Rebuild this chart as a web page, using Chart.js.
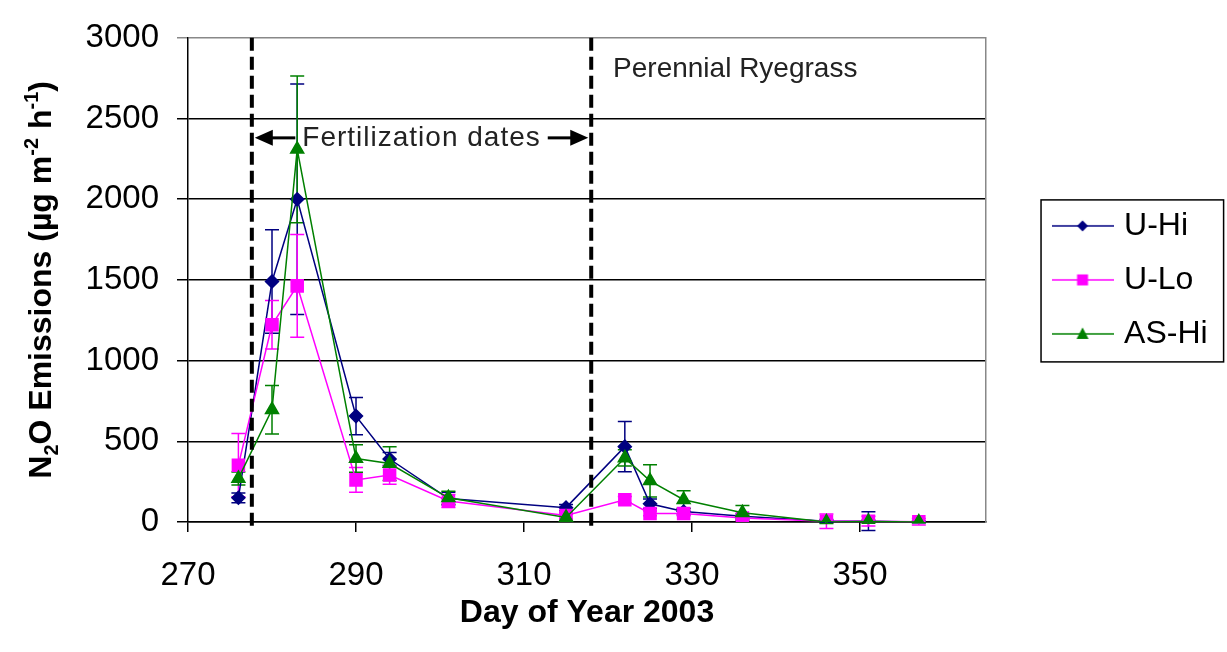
<!DOCTYPE html>
<html>
<head>
<meta charset="utf-8">
<script src="https://cdn.jsdelivr.net/npm/chart.js@4.4.1/dist/chart.umd.min.js"></script>
<style>
  html, body { margin: 0; padding: 0; background: #fff; }
</style>
</head>
<body>
<canvas id="n2o" width="1227" height="652"></canvas>
<script>
// N2O emissions, day of year 2003
const days = [276, 280, 283, 290, 294, 301, 315, 322, 325, 329, 336, 346, 351, 357];
const uHi  = [150, 1490, 2000, 656, 390, 145, 89, 467, 113, 65, 35, 5, 5, 0];
const uLo  = [352, 1222, 1463, 261, 291, 130, 40, 138, 53, 53, 25, 5, 5, 2];
const asHi = [270, 696, 2309, 393, 362, 150, 28, 397, 255, 138, 57, 0, 3, 0];

// error bar half widths
const uHiErr  = [30, 320, 714, 115, 40, 40, 20, 155, 30, 20, 15, 10, 58, 5];
const uLoErr  = [196, 150, 318, 77, 57, 40, 20, 20, 15, 15, 10, 45, 30, 20];
const asHiErr = [40, 150, 455, 85, 105, 40, 20, 50, 100, 56, 46, 10, 10, 5];

const xTicks = [270, 290, 310, 330, 350];
const yTicks = [0, 500, 1000, 1500, 2000, 2500, 3000];

// fertilization window + labels
const fertStart = 277.6;
const fertEnd = 318;
const fertLabel = 'Fertilization dates';
const fertLabelAt = 2380;
const grassLabel = 'Perennial Ryegrass';
const grassLabelAt = [320.6, 2805];

const FONT = '"Liberation Sans", Arial, sans-serif';

function toPoints(ys) {
  return days.map((d, i) => ({ x: d, y: ys[i] }));
}

// little line+marker picture for the legend
function legendIcon(color, shape) {
  const c = document.createElement('canvas');
  c.width = 62; c.height = 20;
  const g = c.getContext('2d');
  g.strokeStyle = color;
  g.fillStyle = color;
  g.lineWidth = 1.5;
  g.beginPath(); g.moveTo(0, 10); g.lineTo(62, 10); g.stroke();
  g.beginPath();
  if (shape === 'diamond') {
    g.moveTo(31, 4.5); g.lineTo(36.5, 10); g.lineTo(31, 15.5); g.lineTo(25.5, 10);
  } else if (shape === 'square') {
    g.rect(25.5, 4.5, 11, 11);
  } else {
    g.moveTo(31, 3.5); g.lineTo(37, 15); g.lineTo(25, 15);
  }
  g.closePath();
  g.fill();
  return c;
}

const errorBars = {
  id: 'errorBars',
  beforeDatasetsDraw(chart) {
    const { ctx, scales: { x, y } } = chart;
    ctx.save();
    ctx.lineWidth = 1.5;
    chart.data.datasets.forEach((ds, i) => {
      ctx.strokeStyle = ds.borderColor;
      ds.data.forEach((p, j) => {
        const e = ds.errors[j];
        const px = x.getPixelForValue(p.x);
        const top = y.getPixelForValue(p.y + e);
        const bot = y.getPixelForValue(p.y - e);
        ctx.beginPath();
        ctx.moveTo(px, top); ctx.lineTo(px, bot);
        ctx.moveTo(px - 7, top); ctx.lineTo(px + 7, top);
        ctx.moveTo(px - 7, bot); ctx.lineTo(px + 7, bot);
        ctx.stroke();
      });
    });
    ctx.restore();
  }
};

function arrow(ctx, from, to, yy) {
  const dir = Math.sign(to - from);
  ctx.lineWidth = 3;
  ctx.beginPath(); ctx.moveTo(from, yy); ctx.lineTo(to - dir * 14, yy); ctx.stroke();
  ctx.beginPath();
  ctx.moveTo(to, yy);
  ctx.lineTo(to - dir * 18, yy - 8);
  ctx.lineTo(to - dir * 18, yy + 8);
  ctx.closePath();
  ctx.fill();
}

const fertilization = {
  id: 'fertilization',
  afterDatasetsDraw(chart) {
    const { ctx, chartArea, scales: { x, y } } = chart;
    const x1 = x.getPixelForValue(fertStart);
    const x2 = x.getPixelForValue(fertEnd);
    ctx.save();
    ctx.strokeStyle = '#000';
    ctx.fillStyle = '#000';
    ctx.lineWidth = 4;
    ctx.setLineDash([13, 6]);
    [x1, x2].forEach(px => {
      ctx.beginPath();
      ctx.moveTo(px, chartArea.top);
      ctx.lineTo(px, chartArea.bottom + 6);
      ctx.stroke();
    });
    ctx.setLineDash([]);

    const ay = y.getPixelForValue(fertLabelAt);
    const mid = (x1 + x2) / 2;
    ctx.font = '28px ' + FONT;
    ctx.letterSpacing = '1px';
    const w = ctx.measureText(fertLabel).width;
    arrow(ctx, mid - w / 2 - 7, x1 + 3, ay);
    arrow(ctx, mid + w / 2 + 7, x2 - 3, ay);
    ctx.fillStyle = '#222';
    ctx.textAlign = 'center';
    ctx.textBaseline = 'middle';
    ctx.fillText(fertLabel, mid, ay);

    ctx.letterSpacing = '0px';
    ctx.textAlign = 'left';
    ctx.fillText(grassLabel, x.getPixelForValue(grassLabelAt[0]), y.getPixelForValue(grassLabelAt[1]));
    ctx.restore();
  }
};

// y title with sub/superscripts
const yTitle = {
  id: 'yTitle',
  afterDraw(chart) {
    const { ctx, chartArea } = chart;
    const parts = [['N', 0], ['2', 1], ['O Emissions (\u00b5g m', 0], ['-2', -1], [' h', 0], ['-1', -1], [')', 0]];
    const big = 'bold 32px ' + FONT, small = 'bold 20px ' + FONT;
    ctx.save();
    ctx.translate(51, (chartArea.top + chartArea.bottom) / 2);
    ctx.rotate(-Math.PI / 2);
    ctx.fillStyle = '#000';
    ctx.textBaseline = 'alphabetic';
    let total = 0;
    parts.forEach(([t, s]) => { ctx.font = s ? small : big; total += ctx.measureText(t).width; });
    let cx = -total / 2;
    parts.forEach(([t, s]) => {
      ctx.font = s ? small : big;
      ctx.fillText(t, cx, s === 1 ? 7 : s === -1 ? -13 : 0);
      cx += ctx.measureText(t).width;
    });
    ctx.restore();
  }
};

const legendBox = {
  id: 'legendBox',
  afterDraw(chart) {
    const lg = chart.legend;
    if (!lg || !lg.legendHitBoxes.length) return;
    const hb = lg.legendHitBoxes;
    const first = hb[0], last = hb[hb.length - 1];
    const { ctx } = chart;
    ctx.save();
    ctx.strokeStyle = '#000';
    ctx.lineWidth = 1.5;
    const l = first.left - 16, t = first.top - 10;
    ctx.strokeRect(l, t, lg.right + 6 - l, last.top + last.height + 12 - t);
    ctx.restore();
  }
};

new Chart('n2o', {
  type: 'line',
  data: {
    datasets: [
      {
        label: 'U-Hi',
        data: toPoints(uHi),
        errors: uHiErr,
        borderColor: '#000080',
        backgroundColor: '#000080',
        borderWidth: 1.5,
        pointStyle: 'rectRot',
        pointRadius: 6.5,
        legendIcon: legendIcon('#000080', 'diamond'),
        order: 3
      },
      {
        label: 'U-Lo',
        data: toPoints(uLo),
        errors: uLoErr,
        borderColor: '#ff00ff',
        backgroundColor: '#ff00ff',
        borderWidth: 1.5,
        pointStyle: 'rect',
        pointRadius: 8.5,
        legendIcon: legendIcon('#ff00ff', 'square'),
        order: 2
      },
      {
        label: 'AS-Hi',
        data: toPoints(asHi),
        errors: asHiErr,
        borderColor: '#008000',
        backgroundColor: '#008000',
        borderWidth: 1.5,
        pointStyle: 'triangle',
        pointRadius: 7.5,
        legendIcon: legendIcon('#008000', 'triangle'),
        order: 1
      }
    ]
  },
  options: {
    responsive: false,
    animation: false,
    layout: { padding: { top: 28, left: 0, right: 9.4, bottom: 0 } },
    elements: { line: { tension: 0, fill: false }, point: { borderWidth: 1 } },
    scales: {
      x: {
        type: 'linear',
        min: 270,
        max: 365,
        afterBuildTicks: s => { s.ticks = xTicks.map(v => ({ value: v })); },
        ticks: {
          color: '#000', font: { family: FONT, size: 33 }, padding: 24, maxRotation: 0,
          callback: v => String(v)
        },
        grid: { drawOnChartArea: false, drawTicks: true, tickLength: 10, color: '#000', lineWidth: 1.5 },
        border: { color: '#000', width: 1.5 },
        title: {
          display: true,
          text: 'Day of Year 2003',
          color: '#000',
          font: { family: FONT, size: 32, weight: 'bold' },
          padding: { top: 0, bottom: 20 }
        },
        afterFit: s => { s.height = 130; }
      },
      y: {
        min: 0,
        max: 3000,
        afterBuildTicks: s => { s.ticks = yTicks.map(v => ({ value: v })); },
        ticks: { color: '#000', font: { family: FONT, size: 33 }, padding: 18, callback: v => String(v) },
        grid: {
          color: c => (c.tick && c.tick.value === 3000 ? '#888' : '#000'),
          lineWidth: 1.5,
          tickLength: 11
        },
        border: { color: '#000', width: 1.5 },
        afterFit: s => { s.width = 188; }
      },
      y2: {
        position: 'right',
        min: 0,
        max: 3000,
        grid: { display: false },
        ticks: { display: false },
        border: { color: '#888', width: 1.5 },
        afterFit: s => { s.width = 49; }
      }
    },
    plugins: {
      legend: {
        position: 'right',
        fullSize: false,
        labels: {
          usePointStyle: true,
          pointStyleWidth: 51,
          padding: 22,
          color: '#000',
          font: { family: FONT, size: 32 },
          sort: (a, b) => a.datasetIndex - b.datasetIndex,
          generateLabels: chart => chart.data.datasets.map((ds, i) => ({
            text: ds.label,
            pointStyle: ds.legendIcon,
            fillStyle: ds.borderColor,
            strokeStyle: ds.borderColor,
            lineWidth: 0,
            hidden: !chart.isDatasetVisible(i),
            datasetIndex: i
          }))
        }
      },
      tooltip: { enabled: false }
    }
  },
  plugins: [errorBars, fertilization, yTitle, legendBox]
});
</script>
</body>
</html>
